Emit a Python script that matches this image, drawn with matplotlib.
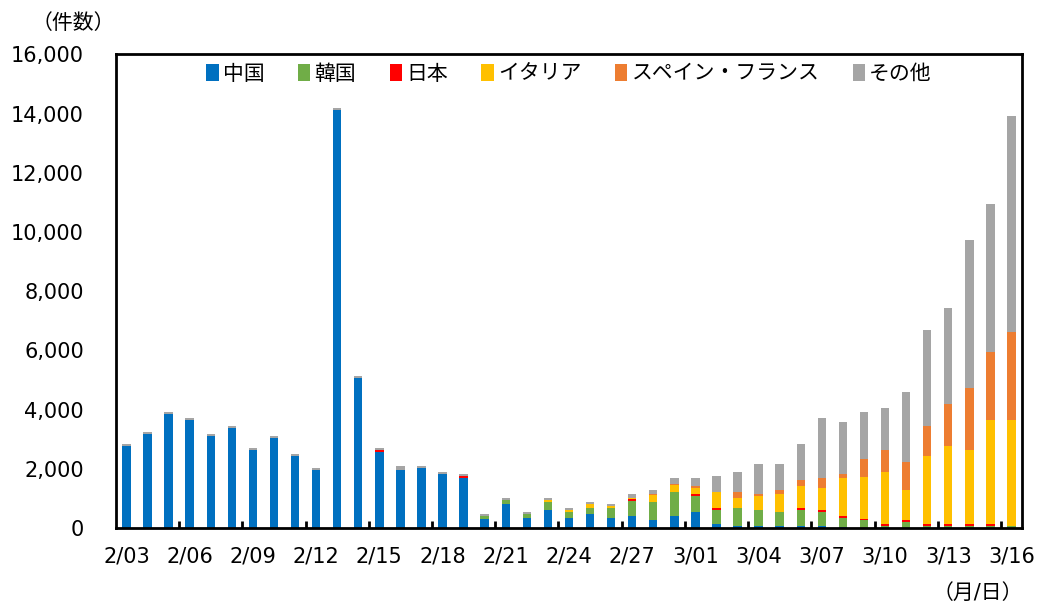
import numpy as np
import matplotlib
matplotlib.use("Agg")
from matplotlib import pyplot as plt
from matplotlib.ticker import FuncFormatter, FixedLocator

plt.rcParams['font.family'] = ['DejaVu Sans', 'Noto Sans CJK JP']

dates = ['2/03', '2/04', '2/05', '2/06', '2/07', '2/08', '2/09', '2/10', '2/11', '2/12',
         '2/13', '2/14', '2/15', '2/16', '2/17', '2/18', '2/19', '2/20', '2/21', '2/22',
         '2/23', '2/24', '2/25', '2/26', '2/27', '2/28', '2/29', '3/01', '3/02', '3/03',
         '3/04', '3/05', '3/06', '3/07', '3/08', '3/09', '3/10', '3/11', '3/12', '3/13',
         '3/14', '3/15', '3/16']

china = [2770, 3175, 3862, 3660, 3118, 3389, 2646, 3040, 2443, 1970,
         14130, 5078, 2570, 1960, 2030, 1830, 1690, 305, 811, 338,
         608, 338, 473, 338, 405, 270, 405, 540, 135, 68,
         68, 68, 68, 68, 20, 15, 10, 8, 8, 8,
         8, 8, 0]
korea = [0, 0, 0, 0, 0, 0, 0, 0, 0, 0,
         0, 0, 0, 0, 0, 0, 0, 85, 135, 135,
         270, 202, 203, 338, 500, 608, 810, 540, 473, 608,
         540, 472, 540, 472, 318, 255, 58, 195, 60, 60,
         60, 60, 70]
japan = [0, 0, 0, 0, 0, 0, 0, 0, 0, 0,
         0, 0, 65, 0, 0, 0, 68, 0, 0, 0,
         0, 0, 0, 0, 60, 0, 0, 67, 68, 0,
         0, 0, 68, 68, 68, 30, 68, 68, 68, 68,
         68, 68, 0]
italy = [0, 0, 0, 0, 0, 0, 0, 0, 0, 0,
         0, 0, 0, 0, 0, 0, 0, 0, 0, 0,
         68, 68, 135, 67, 40, 236, 240, 203, 540, 338,
         473, 608, 743, 743, 1284, 1420, 1757, 1014, 2297, 2635,
         2500, 3513, 3580]
spain_france = [0, 0, 0, 0, 0, 0, 0, 0, 0, 0,
                0, 0, 0, 0, 0, 0, 0, 0, 0, 0,
                0, 0, 0, 0, 10, 20, 30, 68, 0, 203,
                67, 136, 203, 338, 135, 608, 743, 946, 1014, 1419,
                2094, 2297, 2973]
other = [57, 57, 57, 56, 57, 57, 56, 56, 57, 57,
         68, 56, 60, 135, 65, 62, 66, 80, 67, 67,
         67, 68, 67, 68, 135, 140, 205, 270, 541, 676,
         1014, 878, 1216, 2027, 1757, 1590, 1419, 2365, 3242, 3243,
         5000, 5000, 7296]

series = [('中国', china, '#0070C0'),
          ('韓国', korea, '#70AD47'),
          ('日本', japan, '#FF0000'),
          ('イタリア', italy, '#FFC000'),
          ('スペイン・フランス', spain_france, '#ED7D31'),
          ('その他', other, '#A5A5A5')]

fig = plt.figure(figsize=(10.4, 6.04), dpi=100)
ax = fig.add_axes([0.1115, 0.1258, 0.8712, 0.7843])

x = np.arange(len(dates))
bottom = np.zeros(len(dates))
for name, vals, color in series:
    vals = np.array(vals, dtype=float)
    ax.bar(x, vals, width=0.4, bottom=bottom, color=color, label=name)
    bottom += vals

ax.set_xlim(-0.5, len(dates) - 0.5)
ax.set_ylim(0, 16000)
ax.set_yticks(np.arange(0, 16001, 2000))
ax.yaxis.set_major_formatter(FuncFormatter(lambda v, p: f'{int(v):,}'))
ax.tick_params(axis='y', length=0, pad=23, labelsize=15)

# labels every 3 days, small inward ticks on the category boundaries
ax.set_xticks(x[::3])
ax.set_xticklabels(dates[::3])
ax.xaxis.set_minor_locator(FixedLocator(np.arange(2.5, len(dates) - 0.5, 3)))
ax.tick_params(axis='x', which='major', length=0, pad=13, labelsize=15)
ax.tick_params(axis='x', which='minor', direction='in', length=5, width=2, color='black')

for s in ax.spines.values():
    s.set_linewidth(2)
    s.set_color('black')

ax.legend(loc='upper center', ncol=6, frameon=False, fontsize=15,
          handlelength=0.6, handleheight=0.9, handletextpad=0.2,
          columnspacing=1.6, bbox_to_anchor=(0.5, 1.02))

fig.text(0.07, 0.962, '（件数）', fontsize=15, ha='center', va='center')
fig.text(0.94, 0.018, '（月/日）', fontsize=15, ha='center', va='center')

fig.savefig('out.png', dpi=100)
